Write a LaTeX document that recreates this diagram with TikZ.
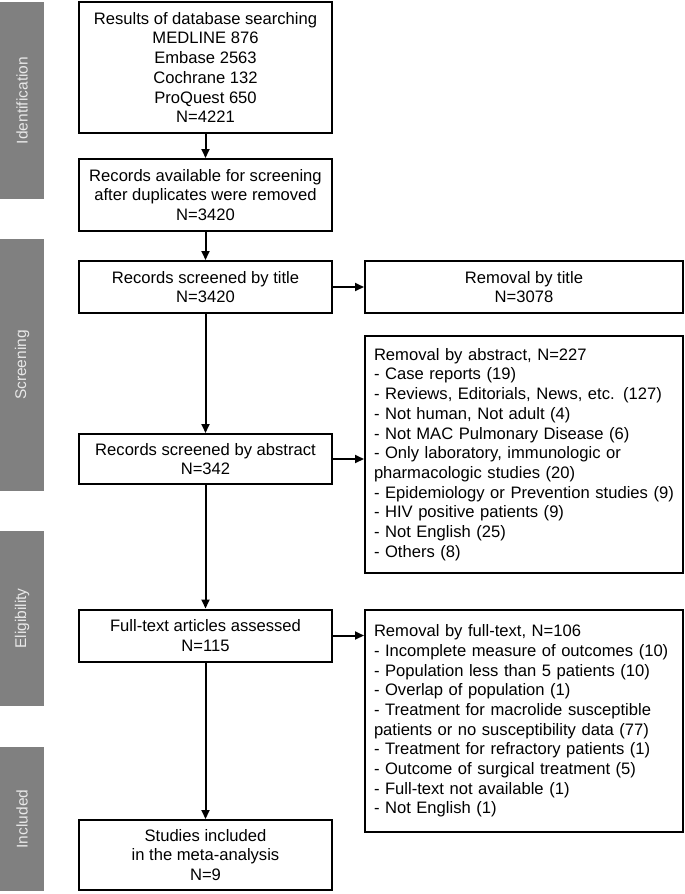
\documentclass[tikz,border=0pt]{standalone}
\usepackage{fontspec}
\setmainfont{Liberation Sans}
\usetikzlibrary{arrows.meta}
\definecolor{bargray}{HTML}{808080}
\definecolor{bartext}{HTML}{E8E8E8}
\begin{document}
\begin{tikzpicture}[x=1pt,y=-1pt,
  box/.style={draw=black,line width=2pt,minimum width=253pt,align=center,inner sep=0pt,
    font=\fontsize{16.6}{19.7}\selectfont},
  rbox/.style={draw=black,line width=2pt,minimum width=318pt,inner sep=0pt,
    font=\fontsize{16.6}{19.7}\selectfont},
  listbox/.style={draw=black,line width=2pt,text width=300pt,align=left,inner xsep=9pt,inner ysep=0pt,
    font=\fontsize{16.6}{19.7}\selectfont},
  bar/.style={fill=bargray,text=bartext,minimum height=44pt,inner sep=0pt,rotate=90,
    font=\fontsize{15.5}{18}\selectfont},
  arr/.style={line width=2pt,-{Triangle[length=9pt,width=8pt]}}]
\useasboundingbox (0,0) rectangle (685,894);
% side bars
\node[bar,minimum width=197pt] (id) at (22,100.5) {Identification};
\node[bar,minimum width=252pt] (sc) at (22,365) {Screening};
\node[bar,minimum width=175pt] (el) at (22,618.5) {Eligibility};
\node[bar,minimum width=144pt] (in) at (22,819) {Included};
% main column
\node[box,minimum height=131pt] (b1) at (205.5,67.5) {Results of database searching\\MEDLINE 876\\Embase 2563\\Cochrane 132\\ProQuest 650\\N=4221};
\node[box,minimum height=72pt] (b2) at (205.5,195) {Records available for screening\\after duplicates were removed\\N=3420};
\node[box,minimum height=52pt] (b3) at (205.5,287) {Records screened by title\\N=3420};
\node[box,minimum height=50pt] (b4) at (205.5,459) {Records screened by abstract\\N=342};
\node[box,minimum height=52pt] (b5) at (205.5,635.5) {Full-text articles assessed\\N=115};
\node[box,minimum height=70pt] (b6) at (205.5,855) {Studies included\\in the meta-analysis\\N=9};
% right column
\node[rbox,minimum height=52pt,align=center] (r1) at (524,287) {Removal by title\\N=3078};
\node[listbox,minimum height=237pt] (r2) at (524,454.5) {Removal by abstract, N=227\\
- Case reports (19)\\
- Reviews, Editorials, News, etc. (127)\\
- Not human, Not adult (4)\\
- Not MAC Pulmonary Disease (6)\\
- Only laboratory, immunologic or\\
pharmacologic studies (20)\\
- Epidemiology or Prevention studies (9)\\
- HIV positive patients (9)\\
- Not English (25)\\
- Others (8)};
\node[listbox,minimum height=222pt] (r3) at (524,721) {Removal by full-text, N=106\\
- Incomplete measure of outcomes (10)\\
- Population less than 5 patients (10)\\
- Overlap of population (1)\\
- Treatment for macrolide susceptible\\
patients or no susceptibility data (77)\\
- Treatment for refractory patients (1)\\
- Outcome of surgical treatment (5)\\
- Full-text not available (1)\\
- Not English (1)};
% connectors
\draw[arr] (b1) -- (b2);
\draw[arr] (b2) -- (b3);
\draw[arr] (b3) -- (b4);
\draw[arr] (b4) -- (b5);
\draw[arr] (b5) -- (b6);
\draw[arr] (b3) -- (r1);
\draw[arr] (b4.east) -- (b4.east -| r2.west);
\draw[arr] (b5.east) -- (b5.east -| r3.west);
\end{tikzpicture}
\end{document}
